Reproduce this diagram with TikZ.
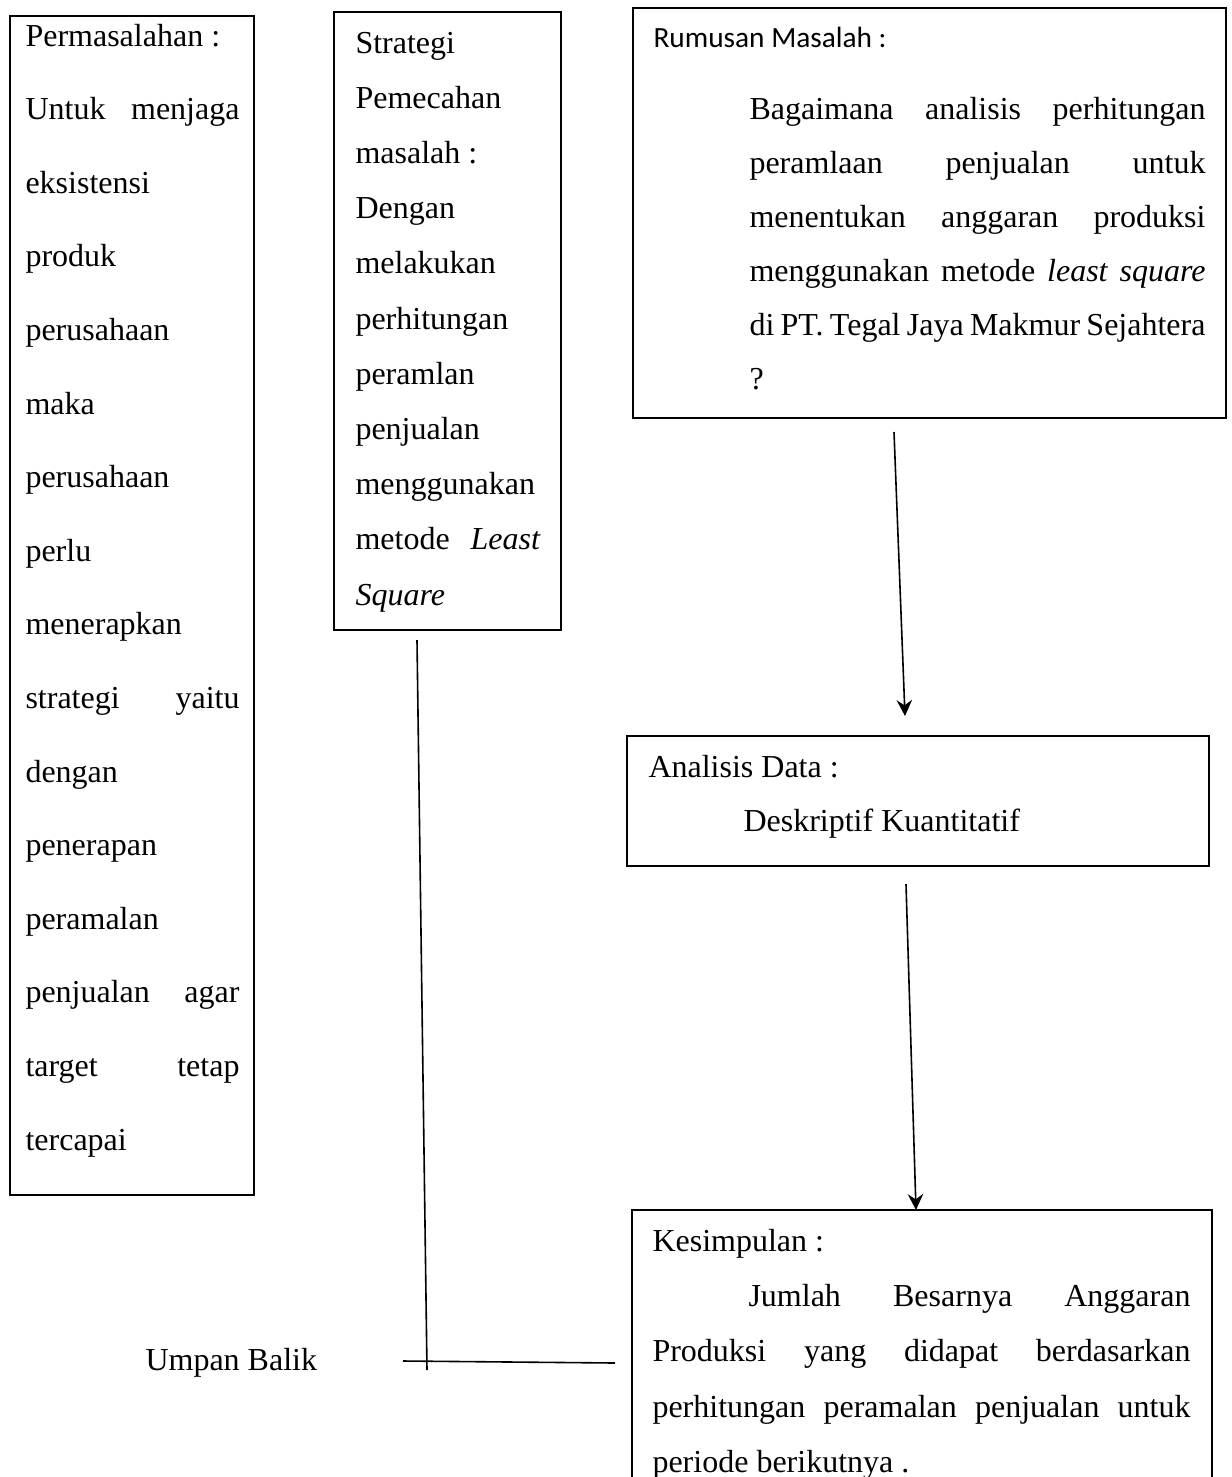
\documentclass[tikz,border=0pt]{standalone}
\usepackage{fontspec}
\setmainfont{Liberation Serif}
\newfontfamily\calibrifont{Carlito}
\usetikzlibrary{arrows.meta,fit}
\newcommand{\jl}[2]{\makebox[#1][s]{#2}}
\begin{document}
\begin{tikzpicture}[x=0.375pt,y=-0.375pt,
  box/.style={draw, line width=0.7pt, inner sep=0pt},
  txt/.style={anchor=base west, inner sep=0pt, font=\fontsize{12}{14}\selectfont},
  lbl/.style={anchor=base west, inner sep=0pt, font=\calibrifont\fontsize{11}{13}\selectfont},
  conn/.style={line width=0.6pt},
  arr/.style={conn, -{Stealth[length=6pt,width=5.8pt,inset=2pt]}}]
\useasboundingbox (0,0) rectangle (1232,1477);
\clip (0,0) rectangle (1232,1477);

% boxes
\node[box, fit={(10,16) (254,1195)}] (perm) {};
\node[box, fit={(334,12) (561,630)}] (strat) {};
\node[box, fit={(633,8) (1226,418)}] (rum) {};
\node[box, fit={(627,736) (1209,866)}] (ana) {};
\node[box, fit={(632,1210) (1212,1560)}] (kes) {};

% Permasalahan
\node[txt] (p1) at (25,46) {Permasalahan :};
\node[txt] (p2) at (25,119.6) {\jl{80.25pt}{Untuk menjaga}};
\node[txt] (p3) at (25,193.2) {eksistensi};
\node[txt] (p4) at (25,266.8) {produk};
\node[txt] (p5) at (25,340.4) {perusahaan};
\node[txt] (p6) at (25,414) {maka};
\node[txt] (p7) at (25,487.6) {perusahaan};
\node[txt] (p8) at (25,561.2) {perlu};
\node[txt] (p9) at (25,634.8) {menerapkan};
\node[txt] (p10) at (25,708.4) {\jl{80.25pt}{strategi yaitu}};
\node[txt] (p11) at (25,782) {dengan};
\node[txt] (p12) at (25,855.6) {penerapan};
\node[txt] (p13) at (25,929.2) {peramalan};
\node[txt] (p14) at (25,1002.8) {\jl{80.25pt}{penjualan agar}};
\node[txt] (p15) at (25,1076.4) {\jl{80.25pt}{target tetap}};
\node[txt] (p16) at (25,1150) {tercapai};

% Strategi
\node[txt] (s1) at (355,53) {Strategi};
\node[txt] (s2) at (355,108.2) {Pemecahan};
\node[txt] (s3) at (355,163.4) {masalah :};
\node[txt] (s4) at (355,218.6) {Dengan};
\node[txt] (s5) at (355,273.8) {melakukan};
\node[txt] (s6) at (355,329) {perhitungan};
\node[txt] (s7) at (355,384.2) {peramlan};
\node[txt] (s8) at (355,439.4) {penjualan};
\node[txt] (s9) at (355,494.6) {menggunakan};
\node[txt] (s10) at (355,549.8) {\jl{69.4pt}{metode \textit{Least}}};
\node[txt] (s11) at (355,605) {\textit{Square}};

% Rumusan Masalah
\node[lbl] (r0) at (653,47) {Rumusan Masalah :};
\node[txt] (r1) at (749,119) {\jl{171pt}{Bagaimana analisis perhitungan}};
\node[txt] (r2) at (749,173) {\jl{171pt}{peramlaan penjualan untuk}};
\node[txt] (r3) at (749,227) {\jl{171pt}{menentukan anggaran produksi}};
\node[txt] (r4) at (749,281) {\jl{171pt}{menggunakan metode \textit{least square}}};
\node[txt] (r5) at (749,335) {\jl{171pt}{di PT. Tegal Jaya Makmur Sejahtera}};
\node[txt] (r6) at (749,389) {?};

% Analisis Data
\node[txt] (a1) at (648,777) {Analisis Data :};
\node[txt] (a2) at (743,831) {Deskriptif Kuantitatif};

% Kesimpulan
\node[txt] (k1) at (652,1251) {Kesimpulan :};
\node[txt] (k2) at (748,1306) {\jl{165.75pt}{Jumlah Besarnya Anggaran}};
\node[txt] (k3) at (652,1361) {\jl{201.75pt}{Produksi yang didapat berdasarkan}};
\node[txt] (k4) at (652,1417) {\jl{201.75pt}{perhitungan peramalan penjualan untuk}};
\node[txt] (k5) at (652,1472) {periode berikutnya .};

% Umpan Balik
\node[txt] (ub) at (145,1370) {Umpan Balik};

% connectors
\coordinate (a1s) at (894,432);
\coordinate (a1e) at (905,716);
\coordinate (a2s) at (906,884);
\coordinate (a2e) at (916,1210);
\coordinate (fbtop) at (417,640);
\coordinate (fbbot) at (427,1370);
\coordinate (fbl) at (403,1361);
\coordinate (fbr) at (615,1363);
\draw[arr] (a1s) -- (a1e);
\draw[arr] (a2s) -- (a2e);
\draw[conn] (fbtop) -- (fbbot);
\draw[conn] (fbl) -- (fbr);
\end{tikzpicture}
\end{document}
